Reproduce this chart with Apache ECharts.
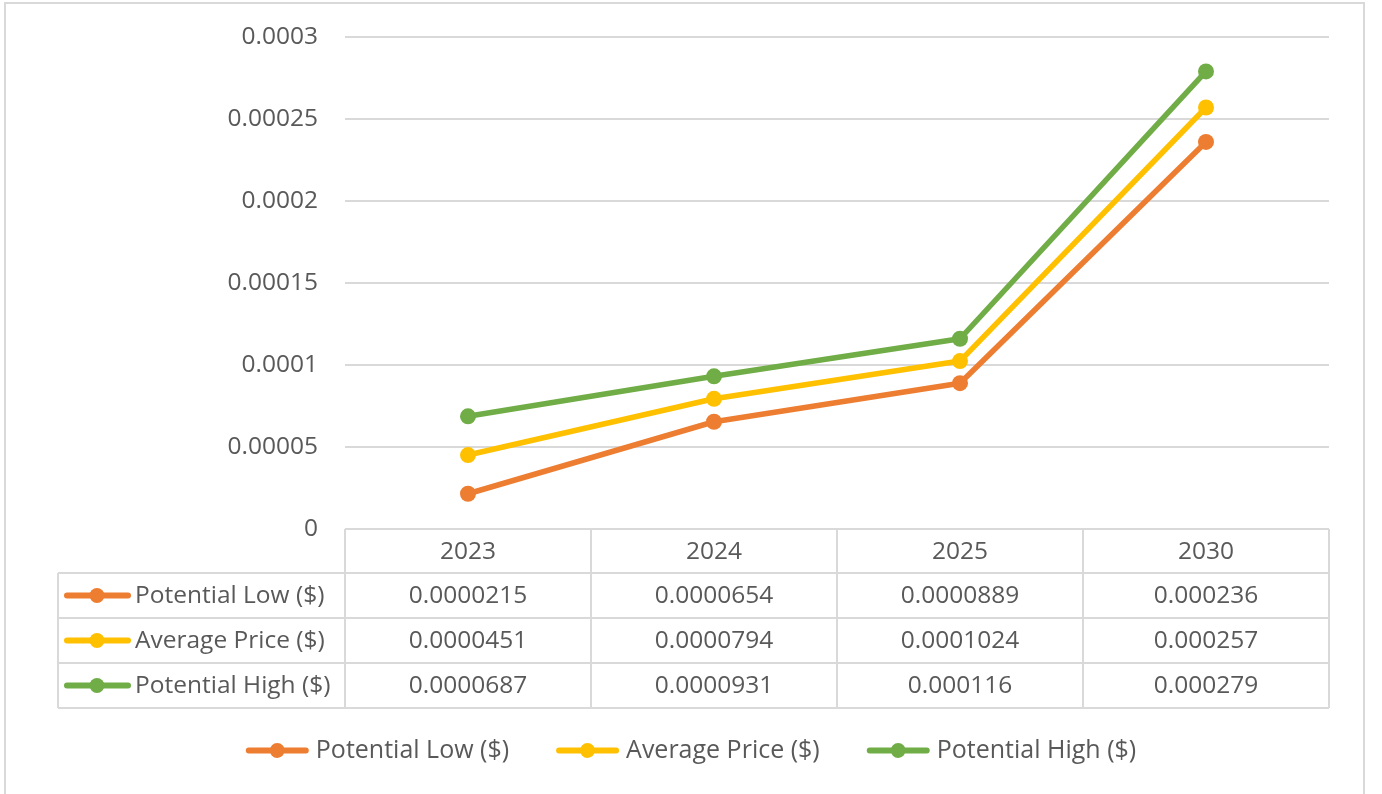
<!DOCTYPE html>
<html><head><meta charset="utf-8">
<script src="https://cdn.jsdelivr.net/npm/echarts@6/dist/echarts.min.js"></script>
<style>html,body{margin:0;padding:0;background:#fff}#c{width:1382px;height:794px}</style>
</head><body><div id="c"></div>
<script>
const categories = ['2023', '2024', '2025', '2030'];
const seriesNames = ['Potential Low ($)', 'Average Price ($)', 'Potential High ($)'];
const lowValues = [0.0000215, 0.0000654, 0.0000889, 0.000236];
const avgValues = [0.0000451, 0.0000794, 0.0001024, 0.000257];
const highValues = [0.0000687, 0.0000931, 0.000116, 0.000279];
const lowLabels = ['0.0000215', '0.0000654', '0.0000889', '0.000236'];
const avgLabels = ['0.0000451', '0.0000794', '0.0001024', '0.000257'];
const highLabels = ['0.0000687', '0.0000931', '0.000116', '0.000279'];
const yTickLabels = ['0', '0.00005', '0.0001', '0.00015', '0.0002', '0.00025', '0.0003'];

const colors = ['#ED7D31', '#FFC000', '#70AD47'];
const FONT = '"Open Sans", "Noto Sans", sans-serif';
const FS = 24.5;
const TXT = '#595959';
const LINE = '#d9d9d9';
const W = 1382, H = 794;
const G = {left: 345, right: 1329, top: 37, bottom: 529};
const tableLeft = 58;
const rowH = 45;
const headerH = 44;

const chart = echarts.init(document.getElementById('c'), null, {renderer: 'canvas'});

const allVals = [lowValues, avgValues, highValues];
const allLabels = [lowLabels, avgLabels, highLabels];

function buildGraphic() {
  const g = [];
  g.push({type: 'rect', shape: {x: 5, y: 3, width: 1359, height: 800}, style: {fill: 'none', stroke: LINE, lineWidth: 2}, silent: true});
  const colW = (G.right - G.left) / categories.length;
  const tTop = G.bottom;
  const rowsTop = tTop + headerH;
  const tBottom = rowsTop + rowH * seriesNames.length;
  const ls = {stroke: LINE, lineWidth: 2};
  for (let i = 0; i <= categories.length; i++) {
    const x = G.left + i * colW;
    g.push({type: 'line', shape: {x1: x, y1: tTop, x2: x, y2: tBottom}, style: ls, silent: true});
  }
  g.push({type: 'line', shape: {x1: G.left, y1: tTop, x2: G.right, y2: tTop}, style: ls, silent: true});
  g.push({type: 'line', shape: {x1: tableLeft, y1: rowsTop, x2: tableLeft, y2: tBottom}, style: ls, silent: true});
  for (let r = 0; r <= seriesNames.length; r++) {
    const y = rowsTop + r * rowH;
    g.push({type: 'line', shape: {x1: tableLeft, y1: y, x2: G.right, y2: y}, style: ls, silent: true});
  }
  categories.forEach((c, i) => {
    g.push({type: 'text', x: G.left + (i + 0.5) * colW, y: tTop + headerH / 2 + 1,
      style: {text: c, font: FS + 'px ' + FONT, fill: TXT, align: 'center', verticalAlign: 'middle'}, silent: true});
  });
  seriesNames.forEach((n, r) => {
    const cy = rowsTop + (r + 0.5) * rowH;
    g.push({type: 'line', shape: {x1: 67, y1: cy, x2: 128, y2: cy}, style: {stroke: colors[r], lineWidth: 6, lineCap: 'round'}, silent: true});
    g.push({type: 'circle', shape: {cx: 97, cy: cy, r: 7.5}, style: {fill: colors[r]}, silent: true});
    g.push({type: 'text', x: 135, y: cy + 1,
      style: {text: n, font: FS + 'px ' + FONT, fill: TXT, align: 'left', verticalAlign: 'middle'}, silent: true});
    allLabels[r].forEach((v, i) => {
      g.push({type: 'text', x: G.left + (i + 0.5) * colW, y: cy + 1,
        style: {text: v, font: FS + 'px ' + FONT, fill: TXT, align: 'center', verticalAlign: 'middle'}, silent: true});
    });
  });
  return g;
}

const legendIcon = 'path://M3,5 L60,5 A3,3 0 0 1 60,11 L3,11 A3,3 0 0 1 3,5 Z M31.5,0.5 A7.5,7.5 0 1 1 31.4,0.5 Z';

const option = {
  animation: false,
  backgroundColor: '#fff',
  grid: {left: G.left, right: W - G.right, top: G.top, bottom: H - G.bottom, containLabel: false},
  legend: {
    bottom: 26, left: 'center', itemWidth: 63, itemHeight: 16, itemGap: 47,
    icon: legendIcon,
    textStyle: {fontFamily: FONT, fontSize: 25, color: TXT, padding: [0, 0, 0, 2]},
    data: seriesNames
  },
  xAxis: {
    type: 'category', data: categories, boundaryGap: true,
    axisLine: {show: false}, axisTick: {show: false}, axisLabel: {show: false}, splitLine: {show: false}
  },
  yAxis: {
    type: 'value', min: 0, max: 0.0003, interval: 0.00005,
    axisLine: {show: false}, axisTick: {show: false},
    axisLabel: {margin: 27, fontFamily: FONT, fontSize: FS, color: TXT,
      formatter: (v) => yTickLabels[Math.round(v / 0.00005)]},
    splitLine: {lineStyle: {color: LINE, width: 2}}
  },
  series: seriesNames.map((n, i) => ({
    name: n, type: 'line', data: allVals[i], color: colors[i],
    symbol: 'circle', symbolSize: 16,
    lineStyle: {width: 5.5, color: colors[i]},
    itemStyle: {color: colors[i]}
  })),
  graphic: buildGraphic()
};
chart.setOption(option);
</script>
</body></html>
